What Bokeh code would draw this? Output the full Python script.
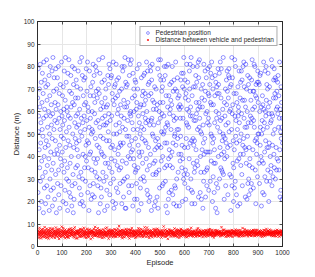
from bokeh.plotting import figure
from bokeh.models import (LinearAxis, FixedTicker, Range1d, Legend, LegendItem,
                          CustomLabelingPolicy)
from bokeh.embed import file_html
from bokeh.resources import INLINE

# Pedestrian position (m), one per episode
pedestrian_position = [
66, 24, 79, 51, 58, 17, 43, 70, 35, 62, 81, 29, 46, 55, 73, 20, 38, 64, 52, 77,
31, 49, 68, 15, 57, 82, 40, 26, 61, 74, 44, 33, 19, 71, 58, 47, 83, 27, 65, 36,
53, 72, 22, 45, 60, 39, 76, 16, 50, 67, 30, 80, 58, 42, 25, 63, 54, 34, 78, 48,
18, 59, 84, 37, 26, 69, 52, 75, 41, 21, 56, 64, 47, 32, 79, 61, 15, 70, 43, 55,
75, 28, 41, 63, 80, 34, 23, 57, 68, 45, 17, 52, 72, 39, 60, 27, 49, 82, 36, 58,
42, 67, 54, 20, 71, 48, 61, 33, 78, 56, 38, 25, 65, 84, 44, 19, 73, 51, 30, 62,
60, 35, 16, 77, 47, 58, 29, 83, 53, 24, 69, 45, 37, 57, 22, 76, 62, 40, 68, 18,
27, 80, 64, 50, 32, 15, 72, 44, 21, 63, 79, 55, 28, 48, 66, 35, 58, 74, 46, 53,
71, 43, 36, 59, 66, 78, 40, 54, 31, 47, 26, 61, 82, 19, 51, 70, 33, 23, 57, 84,
49, 20, 76, 30, 55, 41, 67, 18, 74, 58, 63, 35, 52, 75, 40, 29, 64, 45, 79, 38,
56, 69, 47, 82, 24, 62, 35, 60, 46, 16, 53, 78, 41, 27, 67, 57, 42, 71, 21, 50,
34, 52, 60, 23, 73, 51, 81, 28, 67, 39, 76, 22, 59, 64, 33, 48, 80, 37, 55, 69,
78, 31, 45, 66, 39, 27, 56, 70, 15, 83, 44, 68, 30, 53, 77, 19, 49, 61, 26, 42,
22, 64, 73, 41, 57, 84, 33, 48, 62, 54, 29, 40, 74, 16, 58, 66, 37, 54, 70, 31,
62, 47, 25, 55, 18, 63, 76, 37, 51, 72, 59, 81, 47, 35, 23, 79, 56, 28, 44, 75,
39, 76, 58, 33, 68, 45, 20, 65, 82, 30, 50, 17, 63, 71, 43, 38, 72, 66, 19, 54,
81, 26, 50, 74, 36, 59, 67, 24, 41, 61, 75, 44, 34, 55, 69, 51, 28, 46, 63, 35,
45, 58, 70, 19, 80, 38, 53, 78, 29, 46, 22, 65, 57, 80, 30, 62, 84, 17, 52, 73,
17, 71, 37, 62, 49, 72, 31, 56, 64, 40, 83, 27, 49, 24, 76, 45, 59, 39, 81, 60,
58, 42, 83, 47, 27, 55, 66, 43, 18, 77, 52, 39, 70, 60, 36, 21, 67, 74, 33, 48,
73, 34, 61, 28, 64, 21, 79, 52, 70, 35, 45, 58, 16, 42, 81, 55, 40, 62, 50, 26,
30, 63, 19, 75, 53, 42, 48, 67, 37, 59, 69, 31, 76, 52, 63, 29, 77, 47, 68, 57,
65, 55, 46, 39, 82, 60, 25, 34, 78, 23, 56, 72, 44, 67, 20, 73, 36, 54, 22, 80,
41, 78, 68, 56, 16, 74, 57, 81, 50, 65, 32, 49, 61, 37, 54, 64, 18, 71, 43, 38,
20, 47, 32, 70, 61, 33, 44, 22, 63, 48, 79, 17, 55, 83, 45, 34, 60, 26, 76, 64,
57, 83, 74, 44, 38, 51, 69, 59, 27, 71, 40, 64, 28, 50, 74, 58, 51, 80, 35, 46,
76, 29, 53, 18, 67, 80, 36, 46, 55, 15, 62, 54, 81, 21, 39, 67, 24, 43, 59, 72,
36, 61, 40, 65, 52, 25, 73, 63, 42, 80, 35, 23, 46, 69, 58, 19, 74, 56, 49, 27,
50, 70, 26, 82, 45, 57, 18, 30, 69, 52, 75, 48, 66, 33, 62, 52, 41, 67, 18, 61,
63, 38, 57, 49, 74, 41, 62, 77, 35, 45, 20, 71, 39, 57, 77, 30, 84, 32, 70, 44,
28, 74, 66, 34, 21, 68, 48, 55, 81, 61, 54, 32, 73, 44, 26, 65, 53, 60, 39, 78,
70, 46, 81, 58, 62, 30, 84, 25, 47, 19, 67, 58, 24, 80, 48, 37, 71, 45, 56, 33,
47, 19, 35, 71, 56, 76, 43, 64, 59, 73, 38, 80, 52, 36, 61, 82, 22, 75, 64, 53,
83, 57, 62, 24, 40, 51, 33, 70, 21, 50, 66, 43, 62, 72, 17, 54, 46, 29, 81, 41,
33, 65, 48, 78, 69, 22, 59, 42, 75, 34, 27, 60, 35, 55, 79, 42, 68, 57, 25, 67,
54, 80, 72, 42, 29, 64, 77, 50, 38, 63, 82, 49, 75, 20, 46, 70, 31, 63, 48, 37,
24, 43, 55, 67, 76, 37, 17, 73, 60, 28, 57, 71, 15, 68, 53, 26, 79, 40, 72, 59,
68, 77, 30, 51, 44, 82, 56, 35, 66, 79, 41, 34, 57, 47, 33, 61, 50, 84, 32, 49,
42, 21, 64, 39, 58, 48, 70, 27, 54, 46, 74, 63, 40, 78, 69, 44, 23, 55, 66, 76,
79, 51, 75, 60, 32, 71, 45, 61, 16, 72, 31, 52, 84, 27, 59, 75, 63, 37, 47, 20,
35, 68, 43, 26, 83, 58, 29, 80, 49, 56, 68, 23, 46, 64, 38, 52, 18, 71, 58, 62,
60, 39, 78, 55, 47, 19, 66, 41, 73, 36, 50, 78, 59, 32, 74, 27, 65, 45, 80, 41,
48, 82, 57, 71, 65, 44, 53, 22, 62, 81, 43, 37, 70, 53, 21, 60, 49, 76, 28, 55,
72, 30, 23, 44, 36, 75, 39, 69, 58, 25, 65, 55, 28, 74, 57, 83, 35, 61, 43, 69,
26, 56, 69, 81, 53, 62, 80, 47, 34, 67, 19, 72, 48, 41, 66, 46, 73, 31, 78, 50,
64, 73, 50, 37, 72, 28, 60, 76, 45, 53, 77, 40, 62, 18, 50, 38, 56, 67, 24, 63,
52, 37, 82, 61, 23, 55, 42, 31, 78, 60, 47, 58, 80, 65, 29, 72, 44, 53, 70, 34,
77, 62, 44, 20, 59, 46, 71, 64, 29, 40, 55, 33, 36, 56, 83, 59, 27, 80, 45, 58,
31, 50, 66, 74, 41, 79, 35, 52, 68, 75, 30, 66, 74, 44, 61, 34, 69, 39, 62, 73,
59, 76, 38, 53, 67, 34, 57, 82, 43, 22, 61, 51, 25, 71, 48, 64, 53, 21, 57, 46,
]

# Distance between vehicle and pedestrian, in decimetres, one per episode
distance_dm = [
61, 48, 72, 55, 66, 39, 58, 83, 52, 64, 45, 70, 57, 36, 62, 75, 50, 68, 43, 59,
54, 77, 63, 47, 69, 58, 41, 65, 86, 51, 60, 73, 44, 56, 67, 38, 62, 79, 53, 49,
70, 42, 57, 64, 35, 74, 61, 50, 68, 46, 81, 55, 63, 72, 48, 59, 66, 40, 57, 76,
46, 63, 80, 52, 59, 67, 44, 71, 56, 62, 38, 69, 51, 60, 84, 47, 54, 65, 73, 58,
65, 55, 43, 76, 62, 50, 69, 34, 60, 78, 54, 47, 66, 58, 41, 71, 63, 52, 88, 45,
57, 71, 64, 49, 82, 56, 61, 68, 45, 53, 70, 62, 37, 75, 59, 50, 67, 57, 44, 64,
42, 60, 53, 68, 47, 73, 39, 59, 77, 66, 49, 58, 72, 46, 63, 80, 55, 61, 69, 52,
74, 51, 66, 58, 63, 45, 79, 52, 62, 40, 67, 85, 55, 61, 48, 57, 71, 36, 60, 67,
59, 68, 37, 62, 54, 70, 56, 64, 48, 72, 58, 43, 63, 78, 52, 66, 45, 75, 57, 50,
66, 44, 75, 53, 70, 61, 48, 57, 83, 55, 63, 69, 50, 41, 59, 72, 64, 54, 39, 62,
52, 79, 58, 45, 64, 56, 73, 42, 60, 67, 46, 57, 76, 65, 54, 61, 33, 68, 58, 71,
63, 57, 48, 70, 40, 67, 59, 65, 52, 78, 61, 50, 64, 55, 87, 47, 60, 73, 49, 56,
48, 65, 71, 59, 55, 81, 44, 61, 68, 50, 57, 74, 42, 60, 66, 53, 70, 58, 63, 45,
71, 53, 60, 38, 67, 52, 62, 76, 46, 63, 55, 40, 69, 58, 51, 64, 57, 80, 47, 66,
56, 62, 84, 50, 58, 46, 70, 55, 64, 35, 72, 61, 56, 67, 44, 75, 52, 62, 68, 54,
60, 47, 55, 67, 73, 63, 41, 58, 71, 57, 48, 66, 53, 77, 62, 49, 59, 43, 56, 74,
44, 70, 62, 56, 49, 58, 66, 79, 53, 60, 68, 52, 91, 45, 57, 69, 63, 55, 71, 50,
68, 58, 46, 74, 61, 37, 56, 50, 65, 72, 43, 63, 58, 54, 70, 41, 66, 60, 52, 78,
55, 64, 72, 51, 59, 69, 53, 62, 45, 57, 76, 49, 67, 61, 36, 58, 74, 47, 65, 59,
73, 49, 57, 63, 82, 44, 67, 59, 70, 52, 61, 56, 46, 71, 64, 54, 50, 68, 39, 62,
50, 66, 61, 42, 55, 72, 60, 48, 57, 68, 53, 81, 63, 49, 75, 60, 56, 44, 69, 57,
62, 55, 77, 58, 46, 64, 51, 71, 63, 42, 66, 58, 70, 55, 47, 64, 85, 59, 53, 66,
57, 73, 43, 67, 62, 55, 84, 57, 50, 61, 74, 45, 59, 65, 58, 38, 62, 71, 48, 60,
69, 48, 60, 54, 71, 49, 63, 41, 66, 56, 59, 64, 52, 78, 61, 55, 67, 46, 73, 51,
45, 61, 68, 76, 53, 60, 57, 65, 54, 79, 47, 62, 73, 44, 56, 70, 51, 63, 58, 66,
64, 56, 51, 59, 67, 40, 73, 52, 61, 48, 67, 55, 60, 63, 89, 49, 58, 72, 43, 57,
53, 75, 63, 45, 58, 66, 54, 69, 47, 70, 57, 34, 65, 51, 62, 57, 76, 55, 61, 68,
72, 50, 58, 67, 44, 62, 70, 56, 61, 53, 64, 71, 48, 59, 54, 66, 45, 60, 80, 52,
58, 63, 46, 53, 69, 57, 48, 75, 66, 59, 42, 56, 68, 74, 50, 61, 63, 39, 55, 71,
47, 68, 70, 61, 56, 78, 60, 45, 52, 64, 73, 58, 53, 62, 67, 52, 58, 69, 64, 49,
66, 54, 59, 43, 73, 51, 65, 62, 57, 41, 60, 68, 77, 46, 59, 72, 48, 57, 63, 55,
60, 72, 52, 65, 48, 58, 83, 53, 69, 62, 55, 47, 61, 67, 56, 44, 64, 54, 70, 58,
51, 57, 67, 55, 62, 45, 59, 71, 46, 56, 75, 63, 50, 58, 81, 63, 53, 66, 47, 61,
74, 46, 61, 70, 53, 64, 55, 58, 65, 50, 62, 54, 69, 42, 60, 57, 71, 59, 52, 67,
55, 62, 48, 58, 66, 72, 44, 63, 57, 71, 49, 60, 56, 64, 53, 70, 46, 62, 75, 53,
63, 69, 56, 77, 51, 57, 62, 49, 60, 54, 66, 73, 45, 59, 65, 48, 60, 56, 64, 40,
49, 58, 73, 52, 60, 47, 67, 56, 72, 63, 51, 57, 64, 71, 55, 62, 58, 67, 50, 61,
67, 53, 60, 64, 45, 69, 57, 61, 50, 58, 86, 62, 52, 48, 68, 59, 74, 53, 60, 57,
58, 74, 50, 59, 62, 55, 63, 43, 66, 70, 56, 47, 67, 60, 54, 64, 51, 69, 45, 63,
62, 48, 65, 56, 71, 60, 52, 68, 57, 46, 63, 59, 55, 73, 61, 43, 67, 58, 62, 70,
54, 66, 57, 47, 63, 68, 58, 54, 75, 60, 52, 69, 61, 56, 49, 65, 59, 72, 53, 47,
70, 59, 44, 62, 55, 51, 64, 73, 49, 65, 58, 55, 46, 66, 60, 57, 82, 50, 61, 64,
46, 63, 68, 57, 77, 59, 48, 61, 56, 67, 62, 72, 53, 51, 63, 69, 55, 60, 45, 58,
65, 56, 53, 71, 50, 62, 66, 57, 63, 52, 47, 61, 70, 58, 66, 48, 62, 54, 68, 73,
57, 72, 61, 48, 64, 55, 59, 46, 69, 74, 56, 64, 50, 60, 55, 73, 57, 63, 51, 60,
61, 49, 67, 63, 58, 70, 52, 65, 54, 60, 68, 45, 62, 57, 71, 52, 60, 44, 66, 56,
55, 64, 58, 51, 73, 46, 62, 57, 71, 49, 59, 66, 56, 78, 51, 61, 67, 58, 54, 69,
68, 52, 62, 70, 56, 61, 75, 53, 60, 64, 51, 58, 72, 48, 63, 57, 53, 65, 62, 46,
59, 67, 48, 58, 65, 53, 57, 69, 47, 62, 70, 55, 63, 59, 45, 68, 61, 74, 57, 63,
50, 61, 71, 55, 60, 66, 44, 63, 58, 68, 54, 62, 49, 65, 72, 56, 64, 51, 67, 58,
]
distance = [v / 10 for v in distance_dm]
episodes = list(range(1, len(pedestrian_position) + 1))

x_ticks = [0, 100, 200, 300, 400, 500, 600, 700, 800, 900, 1000]
y_ticks = [0, 10, 20, 30, 40, 50, 60, 70, 80, 90, 100]
series_labels = ["Pedestrian position", "Distance between vehicle and pedestrian"]

FONT = "Liberation Sans"
TXT = "#262626"

p = figure(frame_width=245, frame_height=225, output_backend="svg",
           toolbar_location=None, x_range=Range1d(0, 1000), y_range=Range1d(0, 100),
           min_border_left=37, min_border_right=18, min_border_top=21, min_border_bottom=20,
           background_fill_color="white", border_fill_color="white")

p.outline_line_color = TXT
p.outline_line_width = 0.8
p.xgrid.grid_line_color = "#e6e6e6"
p.ygrid.grid_line_color = "#e6e6e6"
p.xgrid.ticker = FixedTicker(ticks=x_ticks)
p.ygrid.ticker = FixedTicker(ticks=y_ticks)

r_ped = p.scatter(episodes, pedestrian_position, marker="circle", size=4.0,
                  fill_color=None, line_color="#0000ff", line_width=0.6, line_alpha=0.7)
r_dist = p.scatter(episodes, distance, marker="x", size=3.4,
                   line_color="#ff0000", line_width=0.8, line_alpha=0.9)

def style_axis(ax, show_labels=True):
    ax.major_tick_in = 3
    ax.major_tick_out = 0
    ax.minor_tick_line_color = None
    ax.axis_line_color = TXT
    ax.axis_line_width = 0.8
    ax.major_tick_line_color = TXT
    ax.major_tick_line_width = 0.8
    ax.major_label_text_font = FONT
    ax.major_label_text_font_size = "6.5px"
    ax.major_label_text_color = TXT
    ax.major_label_standoff = 3
    ax.axis_label_text_font = FONT
    ax.axis_label_text_font_size = "7.5px"
    ax.axis_label_text_font_style = "normal"
    ax.axis_label_text_color = TXT
    ax.axis_label_standoff = 0
    if not show_labels:
        ax.major_label_policy = CustomLabelingPolicy(
            code="for (const i of indices) { indices.unset(i) }\nreturn indices")
        ax.major_label_standoff = 0

p.xaxis.ticker = FixedTicker(ticks=x_ticks)
p.yaxis.ticker = FixedTicker(ticks=y_ticks)
p.xaxis.axis_label = "Episode"
p.yaxis.axis_label = "Distance (m)"
style_axis(p.xaxis[0])
style_axis(p.yaxis[0])

top_ax = LinearAxis(ticker=FixedTicker(ticks=x_ticks))
right_ax = LinearAxis(ticker=FixedTicker(ticks=y_ticks))
style_axis(top_ax, False)
style_axis(right_ax, False)
p.add_layout(top_ax, "above")
p.add_layout(right_ax, "right")

legend = Legend(items=[LegendItem(label=series_labels[0], renderers=[r_ped]),
                       LegendItem(label=series_labels[1], renderers=[r_dist])],
                location="top_right")
legend.label_text_font = FONT
legend.label_text_font_size = "6.5px"
legend.label_text_color = TXT
legend.label_height = 7
legend.glyph_height = 7
legend.glyph_width = 10
legend.label_standoff = 3
legend.spacing = 0
legend.padding = 2
legend.margin = 5
legend.border_line_color = "#5a5a5a"
legend.border_line_width = 0.8
legend.background_fill_alpha = 1.0
p.add_layout(legend, "center")

open("out.html", "w").write(file_html(p, INLINE))
